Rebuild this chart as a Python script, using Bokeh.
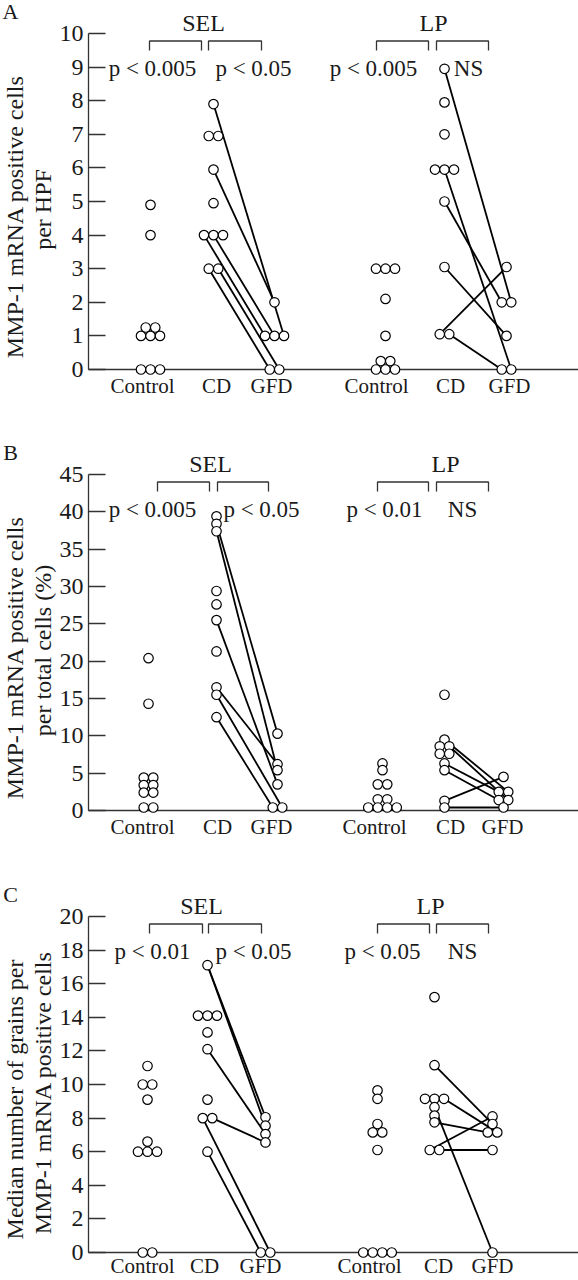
import math
from bokeh.plotting import figure
from bokeh.layouts import column
from bokeh.models import FixedTicker, Range1d
from bokeh.embed import file_html
from bokeh.resources import INLINE
from bokeh.core.properties import value

FONT = "Liberation Serif"
INK = "#1a1a1a"
AXIS = "#333333"

# ---------------- data ----------------
x_labels = ["Control", "CD", "GFD", "Control", "CD", "GFD"]
region_labels = ["SEL", "LP"]

# Panel A: MMP-1 mRNA positive cells per HPF
A_letter = "A"
A_ylabel = ["MMP-1 mRNA positive cells", "per HPF"]
A_yticks = [0, 1, 2, 3, 4, 5, 6, 7, 8, 9, 10]
A_sel_control = [4.9, 4.0, 1.25, 1.25, 1.0, 1.0, 1.0, 0.0, 0.0, 0.0]
A_sel_cd = [7.9, 6.95, 6.95, 5.95, 4.95, 4.0, 4.0, 4.0, 3.0, 3.0]
A_sel_gfd = [2.0, 1.0, 1.0, 1.0, 0.0, 0.0]
A_sel_pair_cd = [0, 3, 5, 6, 8, 9]
A_sel_pair_gfd = [3, 0, 1, 2, 4, 5]
A_lp_control = [3.0, 3.0, 3.0, 2.1, 1.0, 0.25, 0.25, 0.0, 0.0, 0.0]
A_lp_cd = [8.95, 7.95, 7.0, 5.95, 5.95, 5.95, 5.0, 3.05, 1.05, 1.05]
A_lp_gfd = [3.05, 2.0, 2.0, 1.0, 0.0, 0.0]
A_lp_pair_cd = [0, 4, 6, 7, 8, 9]
A_lp_pair_gfd = [2, 5, 1, 3, 0, 4]
A_pvalues = ["p < 0.005", "p < 0.05", "p < 0.005", "NS"]

# Panel B: MMP-1 mRNA positive cells per total cells (%)
B_letter = "B"
B_ylabel = ["MMP-1 mRNA positive cells", "per total cells (%)"]
B_yticks = [0, 5, 10, 15, 20, 25, 30, 35, 40, 45]
B_sel_control = [20.4, 14.3, 4.4, 4.4, 3.4, 3.4, 2.4, 2.4, 0.4, 0.4]
B_sel_cd = [39.4, 38.4, 37.4, 29.4, 27.6, 25.5, 21.3, 16.5, 15.5, 12.5]
B_sel_gfd = [10.3, 6.2, 5.4, 3.5, 0.4, 0.4]
B_sel_pair_cd = [1, 2, 5, 7, 8, 9]
B_sel_pair_gfd = [0, 2, 3, 1, 5, 4]
B_lp_control = [6.3, 5.4, 3.5, 3.5, 1.5, 1.5, 0.4, 0.4, 0.4, 0.4]
B_lp_cd = [15.5, 9.5, 8.6, 8.6, 7.6, 7.6, 6.3, 5.4, 1.3, 0.4]
B_lp_gfd = [4.5, 2.5, 2.5, 1.4, 1.4, 0.4]
B_lp_pair_cd = [1, 3, 6, 7, 8, 9]
B_lp_pair_gfd = [2, 4, 1, 3, 0, 5]
B_pvalues = ["p < 0.005", "p < 0.05", "p < 0.01", "NS"]

# Panel C: median number of grains per MMP-1 mRNA positive cells
C_letter = "C"
C_ylabel = ["Median number of grains per", "MMP-1 mRNA positive cells"]
C_yticks = [0, 2, 4, 6, 8, 10, 12, 14, 16, 18, 20]
C_sel_control = [11.1, 10.0, 10.0, 9.1, 6.6, 6.0, 6.0, 6.0, 0.0, 0.0]
C_sel_cd = [17.1, 14.1, 14.1, 14.1, 13.1, 12.1, 9.1, 8.0, 8.0, 6.0]
C_sel_gfd = [8.05, 7.55, 7.05, 6.55, 0.0, 0.0]
C_sel_pair_cd = [0, 0, 5, 8, 7, 9]
C_sel_pair_gfd = [0, 1, 2, 3, 5, 4]
C_lp_control = [9.65, 9.15, 7.65, 7.15, 7.15, 6.1, 0.0, 0.0, 0.0, 0.0]
C_lp_cd = [15.2, 11.15, 9.15, 9.15, 9.15, 8.65, 8.15, 7.75, 6.1, 6.1]
C_lp_gfd = [8.1, 7.65, 7.15, 7.15, 6.1, 0.0]
C_lp_pair_cd = [1, 4, 5, 7, 8, 9]
C_lp_pair_gfd = [1, 3, 5, 2, 0, 4]
C_pvalues = ["p < 0.01", "p < 0.05", "p < 0.05", "NS"]

# ---------------- layout constants (pixels) ----------------
W = 578
AXIS_X = 88            # x of the value axis
FRAME_H = 336          # px from tick 0 to the top tick
JIT_PX = 9.5

A_lay = dict(height=430, top=33, standoff=4,
             groups=[150, 213, 274, 385, 444, 506],
             ticks=[142, 216, 271, 376, 450, 509],
             brackets=[(149, 201), (208, 261), (376, 428), (436, 488)],
             regions=[203, 433], ptext=[152, 253, 373, 468])
B_lay = dict(height=442, top=44, standoff=4,
             groups=[148, 216, 277, 382, 444, 503],
             ticks=[142, 217, 271, 374, 450, 502],
             brackets=[(157, 209), (217, 268), (377, 428), (436, 488)],
             regions=[210, 445], ptext=[152, 261, 384, 462])
C_lay = dict(height=408, top=44, standoff=1,
             groups=[147, 207, 265, 377, 434, 492],
             ticks=[142, 204, 260, 369, 438, 492],
             brackets=[(149, 202), (208, 261), (377, 429), (436, 488)],
             regions=[201, 430], ptext=[152, 253, 382, 462])


def jitter(vals, center, step):
    counts = {}
    for v in vals:
        counts[v] = counts.get(v, 0) + 1
    seen = {}
    xs = []
    for v in vals:
        n = counts[v]
        i = seen.get(v, 0)
        seen[v] = i + 1
        xs.append(center + (i - (n - 1) / 2.0) * step)
    return xs


def panel(letter, ylabel, yticks, regions, pvalues, lay):
    ymax = yticks[-1]
    ppu = FRAME_H / ymax
    height = lay["height"]
    top = lay["top"]
    bottom = height - top - FRAME_H
    p = figure(width=W, height=height,
               x_range=Range1d(0, W),
               y_range=Range1d(-bottom / ppu, ymax + top / ppu),
               output_backend="svg", toolbar_location=None,
               min_border=0, min_border_left=0, min_border_right=0,
               min_border_top=0, min_border_bottom=0)
    p.outline_line_color = None
    p.xgrid.grid_line_color = None
    p.ygrid.grid_line_color = None
    p.background_fill_color = "white"
    p.border_fill_color = "white"

    # value axis
    yax = p.yaxis[0]
    yax.fixed_location = AXIS_X
    yax.ticker = FixedTicker(ticks=yticks)
    yax.axis_line_color = None
    yax.major_tick_in = 17
    yax.major_tick_out = 0
    yax.major_tick_line_color = AXIS
    yax.major_tick_line_width = 1.3
    yax.minor_tick_line_color = None
    yax.major_label_text_font = FONT
    yax.major_label_text_font_size = "24px"
    yax.major_label_text_color = INK
    yax.major_label_standoff = 5

    # category axis (labels only)
    xax = p.xaxis[0]
    xax.fixed_location = 0
    xax.ticker = FixedTicker(ticks=lay["ticks"])
    xax.major_label_overrides = {t: lab for t, lab in zip(lay["ticks"], x_labels)}
    xax.axis_line_color = None
    xax.major_tick_line_color = None
    xax.major_tick_in = 0
    xax.major_tick_out = 0
    xax.minor_tick_line_color = None
    xax.major_label_text_font = FONT
    xax.major_label_text_font_size = "21px"
    xax.major_label_text_color = INK
    xax.major_label_standoff = lay["standoff"]

    # axis lines
    p.segment(x0=[AXIS_X, AXIS_X], y0=[0, 0], x1=[AXIS_X, W], y1=[ymax, 0],
              line_color=AXIS, line_width=1.3)

    line_xs, line_ys = [], []
    pt_x, pt_y = [], []
    br_xs, br_ys = [], []
    yt = ymax - 7.5 / ppu
    yl = ymax - 17 / ppu
    yp = ymax - 35 / ppu
    g = lay["groups"]
    for r, (ctrl, cd, gfd, pc, pg) in enumerate(regions):
        cx = jitter(ctrl, g[3 * r], JIT_PX)
        dx = jitter(cd, g[3 * r + 1], JIT_PX)
        fx = jitter(gfd, g[3 * r + 2], JIT_PX)
        for i, j in zip(pc, pg):
            line_xs.append([dx[i], fx[j]])
            line_ys.append([cd[i], gfd[j]])
        pt_x += cx + dx + fx
        pt_y += list(ctrl) + list(cd) + list(gfd)
    for a, b in lay["brackets"]:
        br_xs.append([a, a, b, b])
        br_ys.append([yl, yt, yt, yl])

    p.multi_line(br_xs, br_ys, line_color=AXIS, line_width=1.3)
    p.text(lay["ptext"], [yp] * 4, text=pvalues, text_align="center",
           text_baseline="middle", text_font=value(FONT),
           text_font_size="23px", text_color=INK)
    p.text(lay["regions"], [ymax + 11 / ppu] * 2, text=region_labels,
           text_align="center", text_baseline="middle", text_font=value(FONT),
           text_font_size="24px", text_color=INK)
    p.multi_line(line_xs, line_ys, line_color="black", line_width=1.8)
    p.scatter(pt_x, pt_y, size=9.5, fill_color="white", line_color="black",
              line_width=1.2)

    # y-axis title (two lines) and panel letter
    ymid = ymax / 2
    p.text([14, 42], [ymid - 15 / ppu, ymid - 8 / ppu], text=ylabel,
           angle=math.pi / 2, text_align="center", text_baseline="middle",
           text_font=value(FONT), text_font_size="24px", text_color=INK)
    p.text([10], [ymax + 22 / ppu], text=[letter], text_align="center",
           text_baseline="middle", text_font=value(FONT),
           text_font_size="22px", text_color=INK)
    return p


pA = panel(A_letter, A_ylabel, A_yticks,
           [(A_sel_control, A_sel_cd, A_sel_gfd, A_sel_pair_cd, A_sel_pair_gfd),
            (A_lp_control, A_lp_cd, A_lp_gfd, A_lp_pair_cd, A_lp_pair_gfd)],
           A_pvalues, A_lay)
pB = panel(B_letter, B_ylabel, B_yticks,
           [(B_sel_control, B_sel_cd, B_sel_gfd, B_sel_pair_cd, B_sel_pair_gfd),
            (B_lp_control, B_lp_cd, B_lp_gfd, B_lp_pair_cd, B_lp_pair_gfd)],
           B_pvalues, B_lay)
pC = panel(C_letter, C_ylabel, C_yticks,
           [(C_sel_control, C_sel_cd, C_sel_gfd, C_sel_pair_cd, C_sel_pair_gfd),
            (C_lp_control, C_lp_cd, C_lp_gfd, C_lp_pair_cd, C_lp_pair_gfd)],
           C_pvalues, C_lay)

layout = column(pA, pB, pC, spacing=0)
open("out.html", "w").write(file_html(layout, INLINE))
